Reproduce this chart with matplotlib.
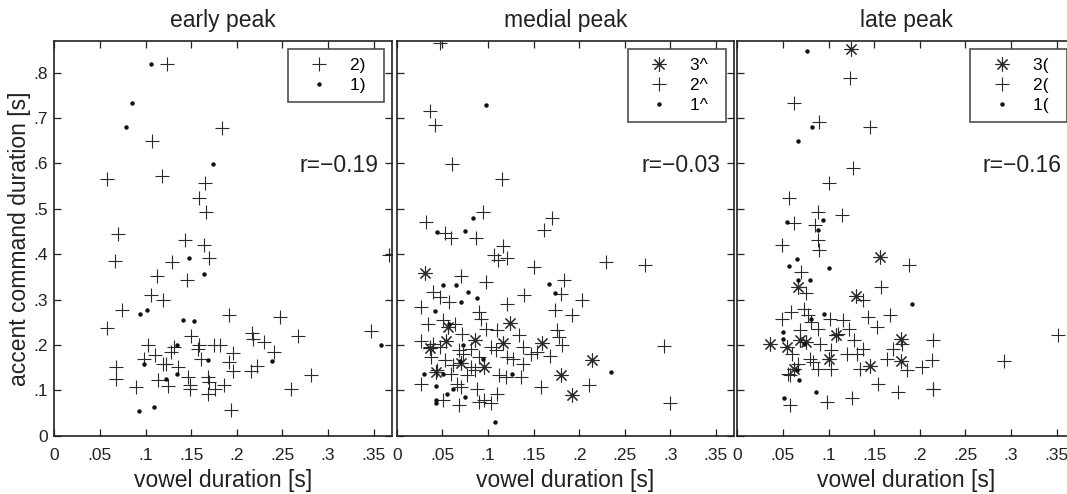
import matplotlib
matplotlib.use("Agg")
import matplotlib.pyplot as plt
from matplotlib.ticker import FuncFormatter

plt.rcParams['font.family'] = ['Liberation Sans', 'DejaVu Sans']

# ---------------- data ----------------
titles = ["early peak", "medial peak", "late peak"]
r_texts = ["r=\u22120.19", "r=\u22120.03", "r=\u22120.16"]
legend_labels = [["2)", "1)"], ["3^", "2^", "1^"], ["3(", "2(", "1("]]
x_ticks = [0, 0.05, 0.1, 0.15, 0.2, 0.25, 0.3, 0.35]
y_ticks = [0, 0.1, 0.2, 0.3, 0.4, 0.5, 0.6, 0.7, 0.8]

# early peak
early_plus_x = [0.124, 0.184, 0.107, 0.058, 0.118, 0.165, 0.159, 0.166, 0.070, 0.143,
                0.164, 0.170, 0.066, 0.129, 0.113, 0.146, 0.106, 0.119, 0.074, 0.058,
                0.192, 0.247, 0.367, 0.347, 0.150, 0.217, 0.218, 0.267, 0.230, 0.103,
                0.128, 0.159, 0.158, 0.175, 0.182, 0.196, 0.241, 0.098, 0.110, 0.119,
                0.123, 0.068, 0.068, 0.136, 0.161, 0.191, 0.196, 0.222, 0.216, 0.281,
                0.090, 0.114, 0.125, 0.147, 0.149, 0.149, 0.169, 0.170, 0.169, 0.176,
                0.186, 0.259, 0.194, 0.131]
early_plus_y = [0.819, 0.679, 0.649, 0.565, 0.573, 0.557, 0.525, 0.492, 0.444, 0.431,
                0.421, 0.392, 0.385, 0.383, 0.351, 0.344, 0.311, 0.300, 0.278, 0.238,
                0.267, 0.261, 0.398, 0.231, 0.220, 0.227, 0.214, 0.220, 0.206, 0.200,
                0.185, 0.201, 0.192, 0.200, 0.200, 0.183, 0.185, 0.170, 0.178, 0.157,
                0.159, 0.152, 0.125, 0.152, 0.170, 0.163, 0.143, 0.154, 0.142, 0.134,
                0.108, 0.123, 0.110, 0.130, 0.112, 0.104, 0.130, 0.119, 0.093, 0.104,
                0.112, 0.104, 0.057, 0.196]
early_dot_x = [0.106, 0.085, 0.079, 0.174, 0.148, 0.164, 0.094, 0.102, 0.141, 0.153,
               0.134, 0.358, 0.098, 0.169, 0.239, 0.122, 0.135, 0.093, 0.109]
early_dot_y = [0.820, 0.734, 0.681, 0.598, 0.392, 0.356, 0.269, 0.277, 0.255, 0.253,
               0.201, 0.200, 0.158, 0.167, 0.165, 0.126, 0.135, 0.055, 0.063]

# medial peak
medial_star_x = [0.031, 0.124, 0.056, 0.054, 0.086, 0.117, 0.159, 0.036, 0.071, 0.096,
                 0.214, 0.180, 0.192, 0.043]
medial_star_y = [0.358, 0.248, 0.240, 0.209, 0.211, 0.205, 0.205, 0.193, 0.161, 0.152,
                 0.167, 0.134, 0.090, 0.141]
medial_plus_x = [0.047, 0.037, 0.042, 0.061, 0.115, 0.095, 0.032, 0.170, 0.162, 0.053,
                 0.059, 0.087, 0.117, 0.107, 0.121, 0.111, 0.151, 0.230, 0.272, 0.071,
                 0.098, 0.183, 0.040, 0.140, 0.047, 0.180, 0.203, 0.121, 0.027, 0.057,
                 0.090, 0.174, 0.192, 0.092, 0.034, 0.051, 0.064, 0.098, 0.110, 0.176,
                 0.134, 0.178, 0.293, 0.027, 0.040, 0.048, 0.072, 0.081, 0.103, 0.109,
                 0.139, 0.147, 0.154, 0.168, 0.181, 0.038, 0.053, 0.062, 0.090, 0.121,
                 0.128, 0.139, 0.044, 0.059, 0.077, 0.086, 0.112, 0.120, 0.136, 0.027,
                 0.066, 0.071, 0.088, 0.110, 0.158, 0.211, 0.051, 0.068, 0.090, 0.096,
                 0.103, 0.300, 0.037, 0.068, 0.073, 0.081]
medial_plus_y = [0.866, 0.716, 0.684, 0.598, 0.565, 0.493, 0.471, 0.479, 0.454, 0.446,
                 0.435, 0.435, 0.418, 0.398, 0.391, 0.387, 0.372, 0.383, 0.376, 0.352,
                 0.338, 0.344, 0.317, 0.310, 0.306, 0.312, 0.300, 0.291, 0.284, 0.295,
                 0.273, 0.278, 0.266, 0.258, 0.247, 0.255, 0.247, 0.236, 0.233, 0.233,
                 0.222, 0.217, 0.198, 0.209, 0.203, 0.196, 0.225, 0.192, 0.196, 0.190,
                 0.196, 0.181, 0.185, 0.175, 0.200, 0.174, 0.167, 0.156, 0.174, 0.173,
                 0.170, 0.159, 0.145, 0.137, 0.134, 0.145, 0.134, 0.130, 0.130, 0.114,
                 0.115, 0.108, 0.104, 0.093, 0.108, 0.112, 0.079, 0.068, 0.075, 0.079,
                 0.071, 0.073, 0.196, 0.189, 0.181, 0.152]
medial_dot_x = [0.098, 0.084, 0.044, 0.075, 0.051, 0.065, 0.078, 0.167, 0.173, 0.088,
                0.070, 0.042, 0.057, 0.073, 0.095, 0.030, 0.051, 0.043, 0.062, 0.055,
                0.075, 0.043, 0.043, 0.069, 0.235, 0.108, 0.126]
medial_dot_y = [0.730, 0.479, 0.450, 0.452, 0.332, 0.332, 0.317, 0.334, 0.315, 0.303,
                0.295, 0.275, 0.247, 0.200, 0.168, 0.137, 0.137, 0.110, 0.103, 0.092,
                0.085, 0.079, 0.071, 0.164, 0.141, 0.030, 0.137]

# late peak
late_star_x = [0.125, 0.156, 0.130, 0.066, 0.036, 0.054, 0.069, 0.075, 0.108, 0.100,
               0.180, 0.180, 0.145, 0.062]
late_star_y = [0.853, 0.394, 0.308, 0.328, 0.202, 0.195, 0.212, 0.207, 0.222, 0.170,
               0.213, 0.165, 0.153, 0.148]
late_plus_x = [0.124, 0.062, 0.090, 0.145, 0.127, 0.100, 0.057, 0.088, 0.115, 0.062,
               0.085, 0.089, 0.049, 0.090, 0.188, 0.070, 0.158, 0.075, 0.138, 0.049,
               0.059, 0.073, 0.077, 0.069, 0.081, 0.088, 0.102, 0.116, 0.122, 0.143,
               0.153, 0.167, 0.110, 0.128, 0.091, 0.103, 0.120, 0.131, 0.138, 0.171,
               0.181, 0.214, 0.352, 0.060, 0.080, 0.083, 0.164, 0.213, 0.292, 0.067,
               0.089, 0.103, 0.134, 0.186, 0.202, 0.056, 0.058, 0.154, 0.176, 0.214,
               0.215, 0.126, 0.098, 0.058]
late_plus_y = [0.789, 0.734, 0.692, 0.681, 0.589, 0.556, 0.525, 0.493, 0.486, 0.469,
               0.465, 0.432, 0.420, 0.409, 0.377, 0.361, 0.327, 0.314, 0.300, 0.258,
               0.273, 0.280, 0.266, 0.233, 0.251, 0.236, 0.258, 0.255, 0.236, 0.262,
               0.240, 0.266, 0.225, 0.211, 0.203, 0.189, 0.181, 0.181, 0.192, 0.192,
               0.203, 0.212, 0.223, 0.181, 0.170, 0.163, 0.170, 0.167, 0.165, 0.159,
               0.148, 0.148, 0.148, 0.145, 0.151, 0.137, 0.134, 0.115, 0.097, 0.104,
               0.102, 0.084, 0.075, 0.068]
late_dot_x = [0.076, 0.082, 0.066, 0.054, 0.094, 0.088, 0.057, 0.065, 0.100, 0.067,
              0.080, 0.191, 0.095, 0.081, 0.050, 0.050, 0.073, 0.065, 0.068, 0.086,
              0.051]
late_dot_y = [0.847, 0.680, 0.650, 0.471, 0.476, 0.454, 0.374, 0.389, 0.370, 0.344,
              0.344, 0.291, 0.268, 0.257, 0.229, 0.214, 0.202, 0.145, 0.123, 0.096,
              0.084]

panels = [
    [("plus", early_plus_x, early_plus_y), ("dot", early_dot_x, early_dot_y)],
    [("star", medial_star_x, medial_star_y), ("plus", medial_plus_x, medial_plus_y),
     ("dot", medial_dot_x, medial_dot_y)],
    [("star", late_star_x, late_star_y), ("plus", late_plus_x, late_plus_y),
     ("dot", late_dot_x, late_dot_y)],
]

# ---------------- styling ----------------
W, H = 1067, 494
fig = plt.figure(figsize=(W / 100, H / 100), dpi=100)
lefts_px = [54.3, 396.7, 737.3]
width_px = 337.5
bottom = (H - 435.7) / H
height = 394.7 / H

styles = {
    "plus": dict(marker='+', ms=10, mew=0.8, color='#2a2a2a'),
    "star": dict(marker=(8, 2, 0), ms=10, mew=0.8, color='#2a2a2a'),
    "dot": dict(marker='o', ms=3.2, mew=0, color='#111111'),
}

def fmt(v, pos):
    if abs(v) < 1e-9:
        return "0"
    s = f"{v:g}"
    return s[1:] if s.startswith("0") else s

for i, series in enumerate(panels):
    ax = fig.add_axes([lefts_px[i] / W, bottom, width_px / W, height])
    for kind, xs, ys in series:
        ax.plot(xs, ys, linestyle='none', clip_on=True, **styles[kind])
    ax.set_xlim(0, 0.37)
    ax.set_ylim(0, 0.87)
    ax.set_xticks(x_ticks)
    ax.set_yticks(y_ticks)
    ax.xaxis.set_major_formatter(FuncFormatter(fmt))
    ax.yaxis.set_major_formatter(FuncFormatter(fmt))
    ax.tick_params(direction='in', length=5, width=0.9, top=True, right=True,
                   labelsize=12.5, colors='#222222')
    ax.tick_params(axis='x', pad=8.5)
    ax.tick_params(axis='y', pad=4.5)
    if i > 0:
        ax.tick_params(labelleft=False)
    for sp in ax.spines.values():
        sp.set_linewidth(1.2)
        sp.set_color('#222222')
    ax.set_title(titles[i], fontsize=16.5, pad=10, color='#222222')
    ax.set_xlabel("vowel duration [s]", fontsize=16.5, labelpad=5, color='#222222')
    if i == 0:
        ax.set_ylabel("accent command duration [s]", fontsize=16.5, labelpad=2,
                      color='#222222')
    ax.text(0.355, 0.595, r_texts[i], ha='right', va='center', fontsize=16.5,
            color='#222222')
    handles = ax.get_lines()
    padded = [lab + "  " for lab in legend_labels[i]]
    leg = ax.legend(handles, padded, loc='upper right', frameon=True,
                    fancybox=False, fontsize=12.5, borderaxespad=0.45,
                    handlelength=2.6, handletextpad=0.5, borderpad=0.5,
                    labelspacing=0.3, markerfirst=True)
    leg.get_frame().set_edgecolor('#222222')
    leg.get_frame().set_linewidth(1.2)

fig.savefig("out.png", dpi=100)
